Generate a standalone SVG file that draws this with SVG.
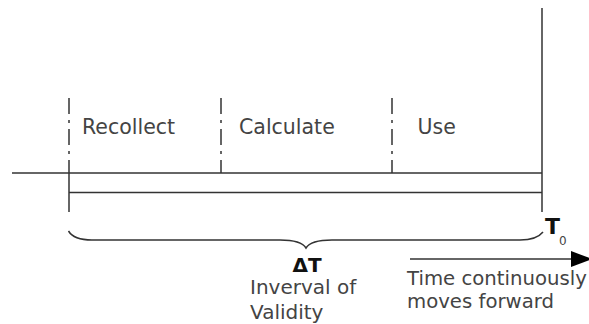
<svg xmlns="http://www.w3.org/2000/svg" width="589" height="324" viewBox="0 0 589 324">
<style>
.ln{stroke:#333;stroke-width:1.5;fill:none}
.dd{stroke:#333;stroke-width:1.5;fill:none;stroke-dasharray:16 6 3 6}
.lb{font-family:"DejaVu Sans",sans-serif;font-size:20px;fill:#444}
.bd{font-family:"DejaVu Sans",sans-serif;font-weight:bold;fill:#111}
</style>
<rect width="589" height="324" fill="#fff"/>
<g id="connectors">
<path class="ln" d="M12,173 H542"/>
<path class="ln" d="M69,192.5 H542"/>
<path class="ln" d="M69,173 V212"/>
<path class="ln" d="M542,8 V212"/>
<path class="dd" d="M69,98 V173"/>
<path class="dd" d="M221,98 V173"/>
<path class="dd" d="M392,98 V173"/>
<path class="ln" d="M68.5,231 C72,237 80,240 92,240 L280,240 C295,240 303,243 306,248 C309,243 317,240 332,240 L520,240 C532,240 539,237 543,232"/>
<path class="ln" d="M410,259 H573"/>
<polygon points="571,251 592,259 571,267" fill="#000"/>
</g>
<g id="recollect"><text class="lb" x="82" y="134" style="font-size:20.5px">Recollect</text></g>
<g id="calculate"><text class="lb" x="239" y="134" style="font-size:20.5px">Calculate</text></g>
<g id="use"><text class="lb" x="417.5" y="134" style="font-size:20.5px">Use</text></g>
<g id="t0"><text class="bd" x="545" y="234" font-size="22">T</text><text class="lb" x="559" y="245" style="font-size:12px">0</text></g>
<g id="delta"><text class="bd" x="307" y="272" font-size="20" text-anchor="middle">ΔT</text>
<text class="lb" x="250" y="294">Inverval of</text>
<text class="lb" x="250" y="319">Validity</text></g>
<g id="time"><text class="lb" x="407" y="285" style="font-size:19.7px">Time continuously</text>
<text class="lb" x="407" y="308" style="font-size:19.7px">moves forward</text></g>
</svg>
